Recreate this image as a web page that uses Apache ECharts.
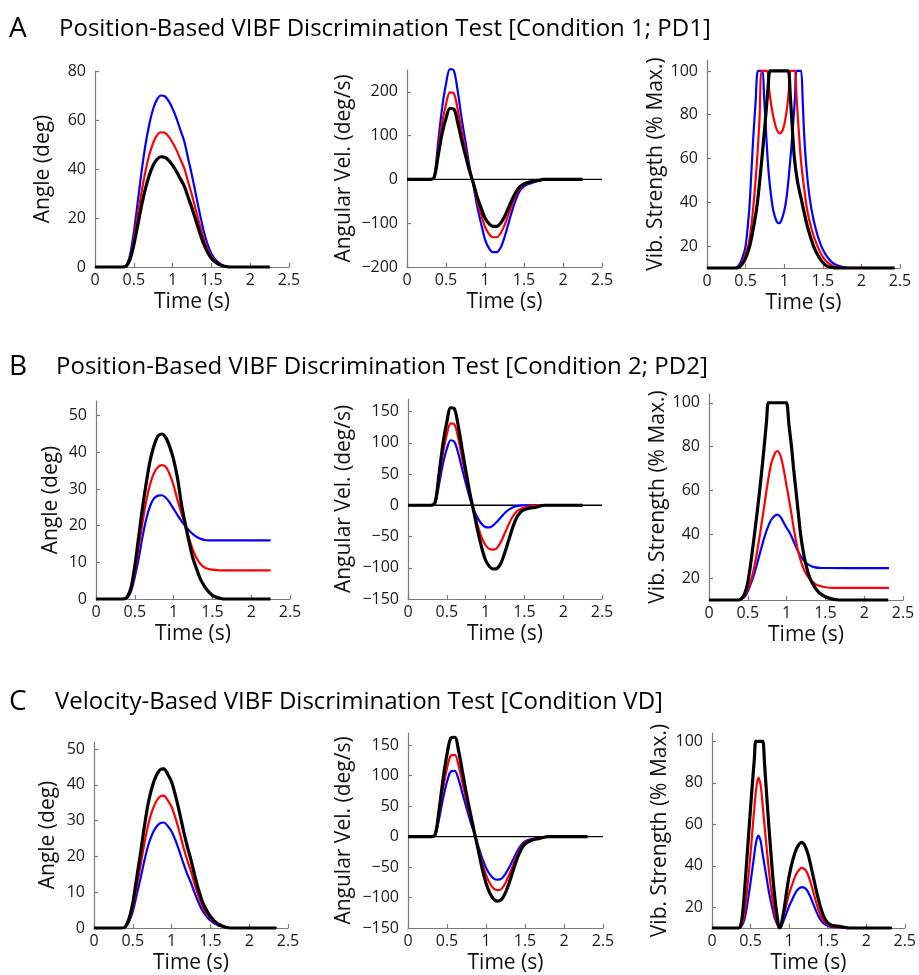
<!DOCTYPE html>
<html><head><meta charset="utf-8">
<script src="https://cdn.jsdelivr.net/npm/echarts@6/dist/echarts.min.js"></script>
<style>html,body{margin:0;padding:0;background:#fff}#c{width:919px;height:975px}</style>
</head><body><div id="c"></div>
<script>
// ---------- time bases (s) ----------
const timeStd = [0,0.3,0.35,0.4,0.45,0.5,0.55,0.6,0.65,0.7,0.75,0.8,0.85,0.9,0.95,1.0,1.05,1.1,1.15,1.2,1.25,1.3,1.35,1.4,1.45,1.5,1.55,1.6,1.65,1.7,1.75,1.8,2.25];
const timeCAng = [0,0.3,0.35,0.4,0.45,0.5,0.55,0.6,0.65,0.7,0.75,0.8,0.85,0.9,0.95,1.0,1.05,1.1,1.15,1.2,1.25,1.3,1.35,1.4,1.45,1.5,1.55,1.6,1.65,1.7,1.75,1.8,2.35];
const timeCVel = [0,0.3,0.35,0.4,0.45,0.5,0.55,0.6,0.65,0.7,0.75,0.8,0.85,0.9,0.95,1.0,1.05,1.1,1.15,1.2,1.25,1.3,1.35,1.4,1.45,1.5,1.55,1.6,1.65,1.7,1.75,1.8,2.3];
const zeroLine = [[0,0],[2.5,0]];

// ---------- A: Condition 1; PD1 ----------
const angA_blue  = [0,0,0,0.5,4.7,14,26.4,38.9,49.8,58.3,64.6,68.4,70,69.7,67.7,64.6,60.7,56,51.3,44.3,37.3,29.6,21.8,14.8,9.3,5.4,3.1,1.6,0.6,0.2,0,0,0];
const angA_red   = [0,0,0,0.4,3.7,11,20.8,30.6,39.1,45.8,50.7,53.8,55,54.8,53.2,50.7,47.7,44,40.3,34.8,29.3,23.2,17.1,11.6,7.3,4.3,2.4,1.2,0.5,0.1,0,0,0];
const angA_black = [0,0,0,0.3,3,9,17,25,32,37.5,41.5,44,45,44.8,43.5,41.5,39,36,33,28.5,24,19,14,9.5,6,3.5,2,1,0.4,0.1,0,0,0];
const velA_blue  = [0,0,8,86,163,218,252,249,202,140,86,31,-12,-62,-101,-137,-157,-166,-166,-156,-132,-101,-70,-44,-25,-16,-11,-8,-5,-2,0,0,0];
const velA_red   = [0,0,6,68,129,172,199,197,160,111,68,25,-10,-49,-80,-108,-124,-132,-132,-123,-105,-80,-55,-34,-20,-12,-9,-6,-4,-2,0,0,0];
const velA_black = [0,0,5,55,105,140,162,161,130,90,55,20,-8,-40,-65,-88,-101,-107,-107,-100,-85,-65,-45,-28,-16,-10,-7,-5,-3,-1.5,0,0,0];
const vibA_blue  = [[0,10],[0.36,10],[0.4,10.8],[0.44,13],[0.48,17],[0.5,20],[0.52,26],[0.55,38],[0.58,57],[0.6,70],[0.63,86],[0.66,100],[0.7,100],[0.72,100],[0.74,88],[0.76,75],[0.78,63],[0.8,53],[0.83,43],[0.86,36],[0.9,31.5],[0.93,30.5],[0.96,31.5],[1.0,36],[1.03,42],[1.06,52],[1.09,64],[1.12,78],[1.14,88],[1.16,100],[1.2,100],[1.22,100],[1.24,86],[1.26,70],[1.29,55],[1.33,42],[1.38,32],[1.44,24],[1.5,18.5],[1.58,14],[1.65,11.8],[1.75,10.5],[1.85,10],[2.43,10]];
const vibA_red   = [[0,10],[0.38,10],[0.42,10.8],[0.46,13],[0.5,16.5],[0.54,21],[0.58,31],[0.62,46],[0.65,60],[0.68,78],[0.71,100],[0.76,100],[0.78,100],[0.8,93],[0.83,85],[0.86,79],[0.9,73.5],[0.94,71.5],[0.98,73],[1.01,77],[1.04,84],[1.06,91],[1.08,100],[1.12,100],[1.14,100],[1.16,88],[1.19,72],[1.22,58],[1.26,46],[1.3,36],[1.36,27],[1.42,21],[1.5,15],[1.58,12],[1.65,10.7],[1.75,10.1],[2.43,10]];
const vibA_black = [[0,10],[0.38,10],[0.42,10.5],[0.46,12],[0.5,14.5],[0.55,19.5],[0.6,28],[0.65,39],[0.7,56],[0.75,75],[0.79,92],[0.815,100],[0.84,100],[1.03,100],[1.055,100],[1.08,88],[1.1,77],[1.13,61],[1.17,50],[1.23,40],[1.3,29],[1.38,20],[1.45,15],[1.5,12.5],[1.55,11],[1.6,10.4],[1.7,10],[2.43,10]];

// ---------- B: Condition 2; PD2 ----------
const angB_blue  = [0,0,0,0.3,2,6,11,17,22,25.5,27.5,28.2,28.3,27.6,26.3,24.6,22.9,21.3,19.9,18.7,17.7,16.9,16.4,16.1,16,16,16,16,16,16,16,16,16];
const angB_red   = [0,0,0,0.4,2.5,7.5,14,21,27,31.5,34.5,36,36.5,36,34,31,27,23.5,20,16.5,13.3,11,9.5,8.6,8.2,8,7.9,7.8,7.8,7.8,7.8,7.8,7.8];
const angB_black = [0,0,0,0.5,3,9,17,25,32,38,42,44.5,45,44,41.5,38,33,26,20.5,15.5,11,8,5.2,3.4,2,1,0.5,0.2,0,0,0,0,0];
const velB_blue  = [0,0,3,33,66,90,104,101,82,57,33,10,-8,-21,-30,-35,-35.5,-32,-26,-19,-12,-7,-3.5,-1.5,-0.5,0,0,0,0,0,0,0,0];
const velB_red   = [0,0,4,42,83,113,131,129,106,74,44,15,-10,-33,-52,-64,-70,-71,-68,-58,-44,-30,-18,-10,-6,-3.5,-2,-1,-0.5,0,0,0,0];
const velB_black = [0,0,5,50,98,133,156,154,125,88,52,18,-12,-42,-68,-88,-98,-102,-101,-92,-75,-55,-35,-20,-11,-7,-5,-4,-3,-1.5,0,0,0];
const vibB_blue  = [[0,10],[0.38,10],[0.42,10.5],[0.46,11.5],[0.5,14],[0.55,18.5],[0.6,24],[0.65,30.5],[0.7,37],[0.75,42.5],[0.8,46.5],[0.85,48.5],[0.88,49],[0.92,48],[0.96,45.5],[1.0,43],[1.05,40],[1.1,36],[1.15,32],[1.2,29],[1.25,27],[1.3,25.8],[1.35,25],[1.45,24.6],[2.32,24.5]];
const vibB_red   = [[0,10],[0.38,10],[0.42,10.5],[0.46,12],[0.5,15],[0.55,20],[0.6,28],[0.65,38.5],[0.7,50],[0.75,62],[0.8,72],[0.85,77],[0.88,78],[0.92,76],[0.96,70],[1.0,62],[1.05,52],[1.1,41],[1.15,32],[1.2,26],[1.25,22],[1.3,19.5],[1.35,17.8],[1.4,16.7],[1.5,15.8],[1.6,15.5],[2.32,15.5]];
const vibB_black = [[0,10],[0.38,10],[0.42,10.7],[0.46,13],[0.5,18],[0.55,30],[0.6,44],[0.65,59],[0.7,76],[0.74,91],[0.763,100],[0.78,100],[0.98,100],[1.0,100],[1.03,90],[1.063,80],[1.09,70],[1.12,60],[1.15,50],[1.18,40],[1.22,31],[1.26,24.5],[1.3,20],[1.36,16],[1.42,13.3],[1.5,11.5],[1.58,10.5],[1.65,10.1],[1.7,10],[2.31,10]];

// ---------- C: Condition VD ----------
const angC_blue  = [0,0,0,0.2,1.7,4.6,9.3,13.9,18.9,23.2,26.2,28.2,29.3,29.5,28.5,27,24.5,21.5,18.2,15.2,12.6,9.6,7,4.8,3.3,2.1,1.3,0.7,0.4,0.1,0,0,0];
const angC_red   = [0,0,0,0.25,2,5.8,11.6,17.5,23.7,29,32.8,35.3,36.7,37,35.7,33.9,30.7,27,22.8,19.1,15.8,12,8.7,6,4.1,2.7,1.7,0.9,0.5,0.2,0,0,0];
const angC_black = [0,0,0,0.3,2.5,7,14,21,28.5,35,39.5,42.5,44.2,44.5,43,40.8,37,32.5,27.5,23,19,14.5,10.5,7.2,5,3.2,2,1.1,0.6,0.2,0,0,0];
const velC_blue  = [0,0,2.7,30,63,90,107,108,93,70,47,25,5,-15,-35,-51,-62,-69,-70.7,-69,-61,-50,-37,-24,-14,-8,-5.3,-3.7,-2.7,-1.7,-0.7,0,0];
const velC_red   = [0,0,3.3,37,79,112,133,134,116,87,58,32,7,-18,-43,-63,-77,-85.5,-88,-85.5,-76,-62,-46,-30,-17.5,-10,-6.6,-4.6,-3.3,-2,-0.8,0,0];
const velC_black = [0,0,4,45,95,135,162,163,140,105,70,38,8,-22,-52,-76,-93,-103,-106,-103,-92,-75,-55,-36,-21,-12,-8,-5.5,-4,-2.5,-1,0,0];
const vibC_blue  = [[0,10],[0.34,10],[0.38,10.8],[0.42,14],[0.46,22],[0.5,32],[0.54,43],[0.57,51],[0.6,54.5],[0.63,52],[0.66,45],[0.7,36],[0.74,27],[0.78,20],[0.82,14],[0.86,10.8],[0.875,10],[0.9,11],[0.95,15.5],[1.0,20.5],[1.05,24.5],[1.1,28],[1.167,29.7],[1.22,28.8],[1.27,25.5],[1.32,21],[1.37,16.5],[1.42,13.3],[1.47,11.6],[1.52,10.8],[1.6,10.4],[1.7,10.1],[1.8,10],[2.33,10]];
const vibC_red   = [[0,10],[0.34,10],[0.38,11],[0.42,17],[0.46,30],[0.5,46],[0.54,64],[0.57,76],[0.6,82.5],[0.63,79],[0.66,68],[0.7,52],[0.74,37],[0.78,25],[0.82,16],[0.86,11],[0.875,10],[0.9,11.5],[0.95,19],[1.0,26.5],[1.05,32],[1.1,36.5],[1.167,39],[1.22,37.5],[1.27,33],[1.32,26.5],[1.37,20],[1.42,15],[1.47,12.5],[1.52,11.2],[1.6,10.6],[1.7,10.2],[1.8,10],[2.33,10]];
const vibC_black = [[0,10],[0.34,10],[0.37,11],[0.4,18],[0.45,42],[0.5,68],[0.55,92],[0.567,100],[0.59,100],[0.64,100],[0.66,100],[0.68,90],[0.72,68],[0.76,48],[0.8,30],[0.84,17],[0.875,10],[0.89,10.3],[0.93,18],[0.97,28],[1.0,35],[1.05,43],[1.1,48.5],[1.16,51.3],[1.2,50],[1.25,45],[1.3,37],[1.35,28.5],[1.4,21],[1.45,15.5],[1.5,12.5],[1.55,11.3],[1.6,11],[1.65,10.8],[1.7,10.5],[1.75,10.1],[1.8,10],[2.33,10]];

// ---------- axis ticks ----------
const ticksAngA = [0,20,40,60,80];
const ticksVelA = [-200,-100,0,100,200];
const ticksVib  = [20,40,60,80,100];
const ticksAng50 = [0,10,20,30,40,50];
const ticksVel150 = [-150,-100,-50,0,50,100,150];

const titles = [
  {letter:'A', text:'Position-Based VIBF Discrimination Test [Condition 1; PD1]', y:29, lx:9, tx:59},
  {letter:'B', text:'Position-Based VIBF Discrimination Test [Condition 2; PD2]', y:367, lx:9, tx:56},
  {letter:'C', text:'Velocity-Based VIBF Discrimination Test [Condition VD]', y:702, lx:9, tx:55}
];

const FONT = '"Open Sans", "DejaVu Sans", sans-serif';
const BLUE = '#0000ff', RED = '#ff0000', BLACK = '#000000';

function pairs(t, v) { return t.map((x, i) => [x, v[i]]); }

const plots = [
  {g:{left:95, top:71, width:194, height:196}, ymin:0, ymax:80, yt:ticksAngA, name:'Angle (deg)', gap:41,
   s:[pairs(timeStd,angA_blue), pairs(timeStd,angA_red), pairs(timeStd,angA_black)]},
  {g:{left:407, top:70, width:195, height:197}, ymin:-200, ymax:250, yt:ticksVelA, name:'Angular Vel. (deg/s)', gap:52, zero:true,
   s:[pairs(timeStd,velA_blue), pairs(timeStd,velA_red), pairs(timeStd,velA_black)]},
  {g:{left:707, top:60, width:193, height:208}, ymin:10, ymax:105, yt:ticksVib, name:'Vib. Strength (% Max.)', gap:40,
   s:[vibA_blue, vibA_red, vibA_black]},
  {g:{left:96, top:401, width:194, height:198}, ymin:0, ymax:54, yt:ticksAng50, name:'Angle (deg)', gap:34,
   s:[pairs(timeStd,angB_blue), pairs(timeStd,angB_red), pairs(timeStd,angB_black)]},
  {g:{left:408, top:399, width:194, height:200}, ymin:-150, ymax:170, yt:ticksVel150, name:'Angular Vel. (deg/s)', gap:53, zero:true,
   s:[pairs(timeStd,velB_blue), pairs(timeStd,velB_red), pairs(timeStd,velB_black)]},
  {g:{left:709, top:394, width:194, height:206}, ymin:10, ymax:104, yt:ticksVib, name:'Vib. Strength (% Max.)', gap:35,
   s:[vibB_blue, vibB_red, vibB_black]},
  {g:{left:94, top:742, width:194, height:190}, ymin:0, ymax:52, yt:ticksAng50, name:'Angle (deg)', gap:35,
   s:[pairs(timeCAng,angC_blue), pairs(timeCAng,angC_red), pairs(timeCAng,angC_black)]},
  {g:{left:408, top:733, width:195, height:199}, ymin:-150, ymax:170, yt:ticksVel150, name:'Angular Vel. (deg/s)', gap:53, zero:true,
   s:[pairs(timeCVel,velC_blue), pairs(timeCVel,velC_red), pairs(timeCVel,velC_black)]},
  {g:{left:712, top:733, width:194, height:197}, ymin:10, ymax:104, yt:ticksVib, name:'Vib. Strength (% Max.)', gap:41,
   s:[vibC_blue, vibC_red, vibC_black]}
];

const axisLineStyle = {color:'#7a7a7a', width:1.2};
const grid = [], xAxis = [], yAxis = [], series = [];
plots.forEach((p, i) => {
  grid.push(Object.assign({containLabel:false}, p.g));
  xAxis.push({
    type:'value', gridIndex:i, min:0, max:2.5, interval:0.5,
    name:'Time (s)', nameLocation:'middle', nameGap:25,
    nameTextStyle:{fontFamily:FONT, fontSize:21, color:'#111'},
    axisLine:{show:true, onZero:false, lineStyle:axisLineStyle},
    axisTick:{show:true, inside:true, length:4, lineStyle:axisLineStyle},
    axisLabel:{fontFamily:FONT, fontSize:16, color:'#1a1a1a', margin:5},
    splitLine:{show:false}
  });
  yAxis.push({
    type:'value', gridIndex:i, min:p.ymin, max:p.ymax,
    name:p.name, nameLocation:'middle', nameGap:p.gap, nameRotate:90,
    nameTextStyle:{fontFamily:FONT, fontSize:21, color:'#111'},
    axisLine:{show:true, lineStyle:axisLineStyle},
    axisTick:{show:true, inside:true, length:4, lineStyle:axisLineStyle, customValues:p.yt},
    axisLabel:{fontFamily:FONT, fontSize:16, color:'#1a1a1a', margin:9, customValues:p.yt,
      formatter: v => String(v).replace('-', '\u2212')},
    splitLine:{show:false}
  });
  if (p.zero) {
    series.push({type:'line', xAxisIndex:i, yAxisIndex:i, data:zeroLine, symbol:'none', silent:true,
      lineStyle:{color:BLACK, width:1.3}, z:1});
  }
  const cols = [BLUE, RED, BLACK], widths = [2.2, 2.2, 3.2];
  p.s.forEach((d, k) => {
    series.push({type:'line', xAxisIndex:i, yAxisIndex:i, data:d, symbol:'none', smooth:0.3, clip:false,
      silent:true, lineStyle:{color:cols[k], width:widths[k]}, z:2 + k, animation:false});
  });
});

const graphic = [];
titles.forEach(t => {
  graphic.push({type:'text', x:t.lx, y:t.y, style:{text:t.letter, font:'28px ' + FONT, fill:'#000', verticalAlign:'middle'}});
  graphic.push({type:'text', x:t.tx, y:t.y, style:{text:t.text, font:'24px ' + FONT, fill:'#000', verticalAlign:'middle'}});
});

const chart = echarts.init(document.getElementById('c'), null, {renderer:'canvas'});
chart.setOption({animation:false, backgroundColor:'#fff', grid, xAxis, yAxis, series, graphic});
</script></body></html>
